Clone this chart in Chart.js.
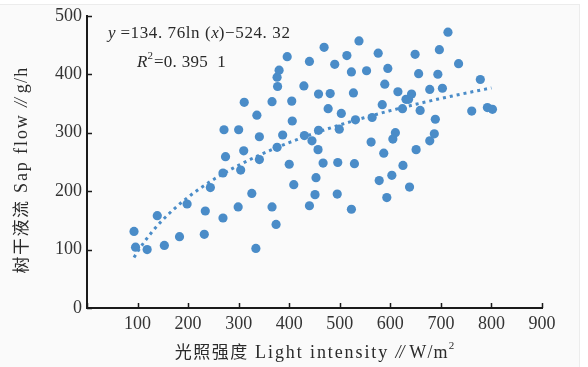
<!DOCTYPE html>
<html>
<head>
<meta charset="utf-8">
<script src="https://cdn.jsdelivr.net/npm/chart.js@4.4.1/dist/chart.umd.min.js"></script>
<style>
  html, body { margin: 0; padding: 0; background: #ffffff; }
  #wrap { width: 588px; height: 367px; }
</style>
</head>
<body>
<div id="wrap"><canvas id="chartSap" width="588" height="367"></canvas></div>
<script>
// light intensity (W/m2) and sap flow (g/h) measured pairs
var lightX = [93, 96, 119, 139, 153, 183, 198, 232, 234, 244,
              269, 269, 274, 271, 300, 299, 304, 310, 311, 326,
              334, 336, 341, 341, 366, 366, 374, 376, 377, 376,
              380, 387, 396, 400, 405, 406, 409, 429, 430, 440,
              440, 445, 451, 453, 457, 458, 458, 467, 469, 477,
              481, 490, 495, 496, 499, 503, 514, 523, 523, 527,
              529, 531, 538, 553, 562, 564, 576, 578, 584, 587,
              589, 593, 595, 603, 605, 610, 615, 624, 625, 631,
              636, 638, 642, 649, 651, 656, 659, 678, 678, 687,
              689, 694, 697, 703, 714, 735, 761, 778, 792, 802];
var sapFlow = [131, 104, 100, 158, 107, 122, 178, 126, 166, 206,
               154, 231, 259, 305, 305, 173, 236, 269, 352, 196,
               102, 330, 293, 254, 173, 353, 143, 275, 379, 395,
               407, 296, 430, 246, 354, 320, 211, 380, 295, 422,
               175, 286, 194, 223, 271, 366, 304, 248, 446, 341,
               367, 417, 195, 249, 306, 333, 432, 404, 169, 368,
               247, 322, 457, 406, 284, 326, 436, 218, 348, 265,
               383, 189, 410, 227, 289, 300, 370, 341, 244, 357,
               357, 207, 366, 434, 271, 401, 338, 374, 286, 298,
               323, 400, 442, 376, 472, 418, 337, 391, 343, 340];

var xTicks = [0, 100, 200, 300, 400, 500, 600, 700, 800, 900];
var yTicks = [0, 100, 200, 300, 400, 500];

// logarithmic fit y = a*ln(x) - b, fitted over the measured range
var fitA = 134.76;
var fitB = 524.32;
var fitFrom = 93, fitTo = 800;

var blue = 'rgb(74, 140, 200)';
var serif = '"Liberation Serif", "DejaVu Serif", serif';
var cjk = '"Noto Sans CJK SC", sans-serif';

var points = [];
for (var i = 0; i < lightX.length; i++) {
  points.push({ x: lightX[i], y: sapFlow[i] });
}
var fitLine = [];
for (var x = fitFrom; x <= fitTo; x += 7) {
  fitLine.push({ x: x, y: fitA * Math.log(x) - fitB });
}
fitLine.push({ x: fitTo, y: fitA * Math.log(fitTo) - fitB });

// writes text pieces one after another, returns the end x
function runText(c, pieces, x, y) {
  pieces.forEach(function(p) {
    c.font = p[0];
    c.letterSpacing = (p[2] || 0) + 'px';
    c.fillText(p[1], x, y + (p[3] || 0));
    x += c.measureText(p[1]).width;
  });
  c.letterSpacing = '0px';
  return x;
}
function runWidth(c, pieces) {
  var w = 0;
  pieces.forEach(function(p) {
    c.font = p[0];
    c.letterSpacing = (p[2] || 0) + 'px';
    w += c.measureText(p[1]).width;
  });
  c.letterSpacing = '0px';
  return w;
}

// paper background, inward ticks, axis titles and the fit equation
var decor = {
  id: 'decor',
  beforeDraw: function(chart) {
    var c = chart.ctx;
    c.save();
    c.fillStyle = '#ffffff';
    c.fillRect(0, 0, chart.width, chart.height);
    c.fillStyle = '#fafafa';
    c.fillRect(0, 4, 579, chart.height - 4);
    c.strokeStyle = '#ececec';
    c.lineWidth = 1;
    c.beginPath();
    c.moveTo(579.5, 4);
    c.lineTo(579.5, chart.height);
    c.moveTo(0, 4.5);
    c.lineTo(579.5, 4.5);
    c.stroke();
    c.restore();
  },
  afterDraw: function(chart) {
    var c = chart.ctx;
    var xs = chart.scales.x, ys = chart.scales.y;
    var area = chart.chartArea;
    c.save();
    c.strokeStyle = '#1a1a1a';
    c.lineWidth = 1.5;
    c.beginPath();
    xTicks.forEach(function(v) {
      var px = Math.round(xs.getPixelForValue(v)) + 0.5;
      c.moveTo(px, area.bottom);
      c.lineTo(px, area.bottom - 5);
    });
    yTicks.forEach(function(v) {
      var py = Math.round(ys.getPixelForValue(v)) + 0.5;
      c.moveTo(area.left, py);
      c.lineTo(area.left + 5, py);
    });
    c.stroke();

    c.fillStyle = '#2a2a2a';
    c.textBaseline = 'middle';
    c.textAlign = 'left';

    // x title
    var xt = [
      ['17px ' + cjk, '光照强度', 1.5],
      ['18px ' + serif, ' Light intensity ', 1.9, 1],
      ['italic 18px ' + serif, '//', -1, 1],
      ['18px ' + serif, ' W/m', 1.2, 1],
      ['11px ' + serif, '2', 0, -6]
    ];
    var sx = (area.left + area.right) / 2 - runWidth(c, xt) / 2;
    runText(c, xt, sx, 352);

    // y title, rotated
    var yt = [
      ['17px ' + cjk, '树干液流', 1.5],
      ['18px ' + serif, ' Sap flow ', 1.9, 1],
      ['italic 18px ' + serif, '//', -1, 1],
      ['18px ' + serif, ' g/h', 1.2, 1]
    ];
    c.save();
    c.translate(21, 170);
    c.rotate(-Math.PI / 2);
    runText(c, yt, -runWidth(c, yt) / 2, 0);
    c.restore();

    // fit equation
    runText(c, [
      ['italic 17px ' + serif, 'y', 0],
      ['17px ' + serif, ' =134. 76ln (', 0.6],
      ['italic 17px ' + serif, 'x', 0],
      ['17px ' + serif, ')\u2212524. 32', 0.6]
    ], 108, 34);
    runText(c, [
      ['italic 17px ' + serif, 'R', 0],
      ['11px ' + serif, '2', 1, -7],
      ['17px ' + serif, '=0. 395  1', 0.3]
    ], 137, 63);
    c.restore();
  }
};

var cxt = document.getElementById('chartSap');
var sapChart = new Chart(cxt, {
  type: 'scatter',
  data: {
    datasets: [
      {
        label: 'Sap flow',
        data: points,
        backgroundColor: blue,
        borderColor: blue,
        borderWidth: 0,
        pointRadius: 4.6,
        order: 1
      },
      {
        type: 'line',
        label: 'Log fit',
        data: fitLine,
        borderColor: blue,
        borderWidth: 3,
        borderDash: [3, 4],
        pointRadius: 0,
        fill: false,
        tension: 0,
        order: 2
      }
    ]
  },
  options: {
    responsive: false,
    animation: false,
    devicePixelRatio: 1,
    layout: { padding: { left: 0, top: 15, right: 46, bottom: 0 } },
    plugins: {
      legend: { display: false },
      tooltip: { enabled: false }
    },
    scales: {
      x: {
        type: 'linear',
        min: 0,
        max: 900,
        afterFit: function(scale) { scale.height = 59; },
        afterBuildTicks: function(scale) {
          scale.ticks = xTicks.map(function(v) { return { value: v }; });
        },
        grid: { display: false, tickLength: 0 },
        border: { display: true, color: '#1a1a1a', width: 2 },
        ticks: {
          padding: 5,
          color: '#333333',
          font: { family: serif, size: 18 },
          callback: function(v) { return v === 0 ? '' : v; }
        }
      },
      y: {
        type: 'linear',
        min: 0,
        max: 500,
        afterFit: function(scale) { scale.width = 87; },
        afterBuildTicks: function(scale) {
          scale.ticks = yTicks.map(function(v) { return { value: v }; });
        },
        grid: { display: false, tickLength: 0 },
        border: { display: true, color: '#1a1a1a', width: 2 },
        ticks: {
          padding: 5,
          color: '#333333',
          font: { family: serif, size: 18 }
        }
      }
    }
  },
  plugins: [decor]
});
</script>
</body>
</html>
